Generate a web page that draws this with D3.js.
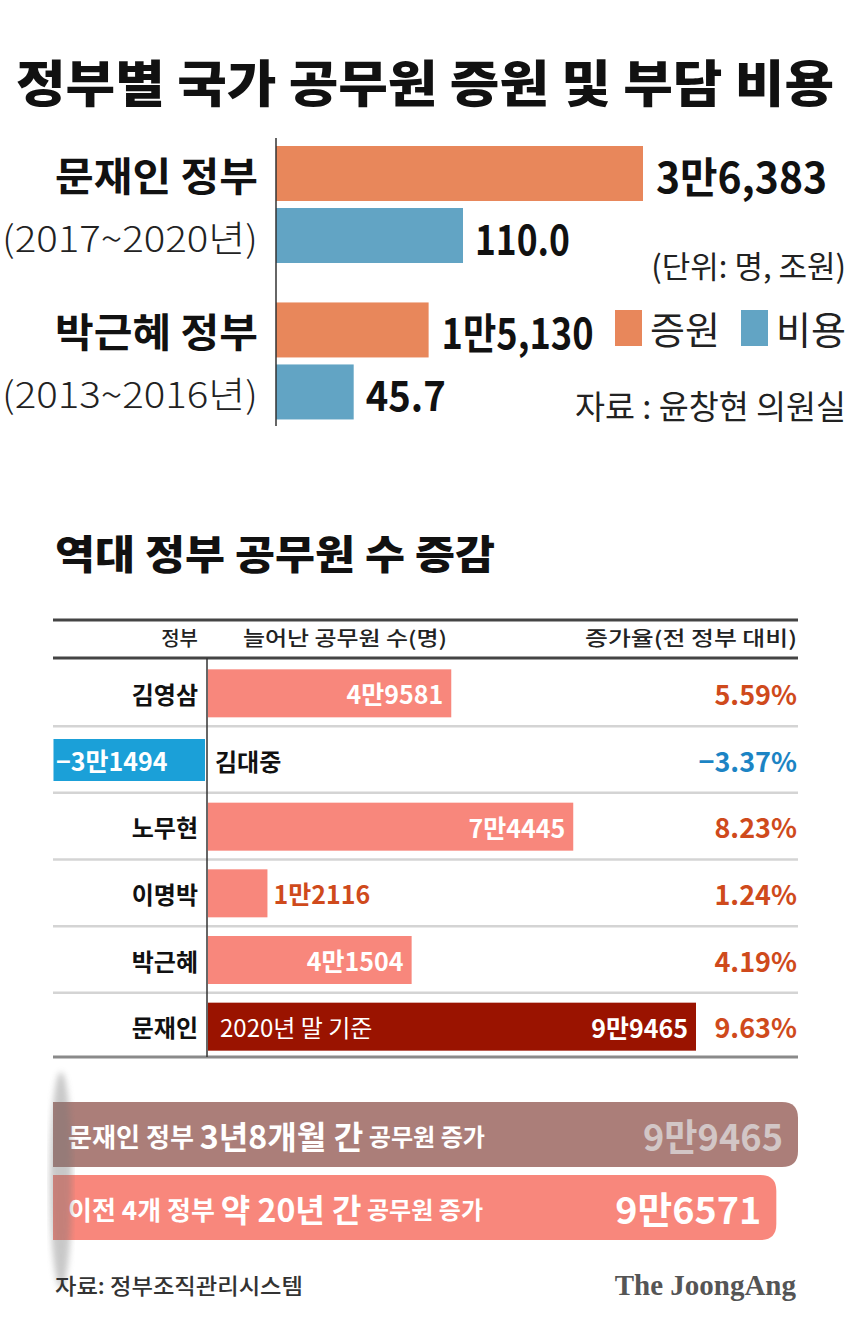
<!DOCTYPE html>
<html><head><meta charset="utf-8">
<script src="https://cdn.jsdelivr.net/npm/d3@7"></script>
<style>
html,body{margin:0;padding:0;background:#fff;}
svg{display:block;font-family:"Noto Sans CJK KR","Noto Sans",sans-serif;}
</style></head>
<body>
<svg id="c" width="850" height="1336"></svg>
<script>
// ---- data: top chart ----
const topGovs = ["문재인 정부", "박근혜 정부"];
const topPeriods = ["(2017~2020년)", "(2013~2016년)"];
const topHires = [36383, 15130];
const topHireLabels = ["3만6,383", "1만5,130"];
const topCosts = [110.0, 45.7];
const topCostLabels = ["110.0", "45.7"];
const legendItems = ["증원", "비용"];

// ---- data: bottom table ----
const govNames = ["김영삼", "김대중", "노무현", "이명박", "박근혜", "문재인"];
const increases = [49581, -31494, 74445, 12116, 41504, 99465];
const increaseLabels = ["4만9581", "−3만1494", "7만4445", "1만2116", "4만1504", "9만9465"];
const rates = ["5.59%", "−3.37%", "8.23%", "1.24%", "4.19%", "9.63%"];
const headers = ["정부", "늘어난 공무원 수(명)", "증가율(전 정부 대비)"];

// ---- data: summary ----
const summaryValues = [99465, 96571];
const summaryLabels = ["9만9465", "9만6571"];

const svg = d3.select("#c");
const ORANGE = "#e8875b", BLUE = "#62a4c4";
const SALMON = "#f8877c", NEG = "#1ba0d8", MOON = "#9a1300";
const RED_TXT = "#cf4a1c", BLUE_TXT = "#1c84c4";

function txt(x, y, s, o) {
  const t = svg.append("text").attr("x", x).attr("y", y).text(s)
    .attr("dominant-baseline", "central")
    .attr("font-size", o.size).attr("font-weight", o.weight || 400)
    .attr("fill", o.fill || "#111")
    .attr("text-anchor", o.anchor || "start");
  if (o.len) t.attr("textLength", o.len).attr("lengthAdjust", "spacingAndGlyphs");
  if (o.family) t.attr("font-family", o.family);
  return t;
}

// ---- title ----
txt(425, 80, "정부별 국가 공무원 증원 및 부담 비용", {size: 50, weight: 900, anchor: "middle", len: 818});

// ---- top chart ----
const x0 = 276;
const xHire = d3.scaleLinear().domain([0, d3.max(topHires)]).range([x0, 643]);
const xCost = d3.scaleLinear().domain([0, d3.max(topCosts)]).range([x0, 463]);
const yGov = d3.scaleBand().domain(topGovs).range([138, 426]).paddingInner(0.06);
const barH = 55;

topGovs.forEach((g, i) => {
  const yb = yGov(g) + (i === 0 ? 8 : 16);
  svg.append("rect").attr("x", x0).attr("y", yb).attr("width", xHire(topHires[i]) - x0).attr("height", barH).attr("fill", ORANGE);
  svg.append("rect").attr("x", x0).attr("y", yb + 62).attr("width", xCost(topCosts[i]) - x0).attr("height", barH).attr("fill", BLUE);
  txt(258, yb + 28, g, {size: 40, weight: 700, anchor: "end", len: 203});
  txt(258, yb + 90, topPeriods[i], {size: 36, weight: 300, anchor: "end", len: 256, fill: "#222"});
  txt(xHire(topHires[i]) + 13, yb + 28, topHireLabels[i], {size: 42, weight: 700, len: i === 0 ? 171 : 152});
  txt(xCost(topCosts[i]) + 12, yb + 90, topCostLabels[i], {size: 42, weight: 700, len: i === 0 ? 95 : 80});
});
svg.append("line").attr("x1", x0).attr("x2", x0).attr("y1", 138).attr("y2", 426).attr("stroke", "#333").attr("stroke-width", 1.5);

txt(846, 264, "(단위: 명, 조원)", {size: 31, weight: 400, anchor: "end", fill: "#222"});
// legend
const legColors = [ORANGE, BLUE];
const legX = [615, 741];
legendItems.forEach((l, i) => {
  svg.append("rect").attr("x", legX[i]).attr("y", 310).attr("width", 27).attr("height", 36).attr("fill", legColors[i]);
  txt(legX[i] + 35, 327, l, {size: 38, weight: 400, len: 70, fill: "#222"});
});
txt(846, 405, "자료 : 윤창현 의원실", {size: 33, weight: 400, anchor: "end", len: 271, fill: "#222"});

// ---- bottom title ----
txt(55, 552, "역대 정부 공무원 수 증감", {size: 40, weight: 900, len: 440});

// ---- table ----
const L = 53, R = 798, axisX = 207;
svg.append("line").attr("x1", L).attr("x2", R).attr("y1", 620).attr("y2", 620).attr("stroke", "#444").attr("stroke-width", 3);
txt(198, 637, headers[0], {size: 20, weight: 500, anchor: "end", fill: "#222"});
txt(243, 637, headers[1], {size: 20, weight: 500, fill: "#222", len: 204});
txt(797, 637, headers[2], {size: 20, weight: 500, anchor: "end", fill: "#222", len: 212});
svg.append("line").attr("x1", L).attr("x2", R).attr("y1", 658).attr("y2", 658).attr("stroke", "#444").attr("stroke-width", 3);

const yRow = d3.scaleBand().domain(govNames).range([660, 1060]).paddingInner(0.28).paddingOuter(0.14);
const xInc = d3.scaleLinear().domain([0, d3.max(increases)]).range([axisX + 1, 696]);
const step = yRow.step();

// separators
govNames.slice(1).forEach(g => {
  const ys = yRow(g) - step * 0.14 - 0.5;
  svg.append("line").attr("x1", L).attr("x2", R).attr("y1", ys).attr("y2", ys)
    .attr("stroke", "#d4d4d4").attr("stroke-width", 2.5);
});
svg.append("line").attr("x1", L).attr("x2", R).attr("y1", 1057).attr("y2", 1057).attr("stroke", "#8a8a8a").attr("stroke-width", 3);

govNames.forEach((g, i) => {
  const v = increases[i];
  const y = yRow(g), h = yRow.bandwidth(), cy = y + h / 2;
  const xa = Math.min(xInc(0), xInc(v)), w = Math.abs(xInc(v) - xInc(0));
  const fill = v < 0 ? NEG : (g === "문재인" ? MOON : SALMON);
  svg.append("rect").attr("x", xa).attr("y", v < 0 ? y + 3 : y).attr("width", v < 0 ? w - 3 : w)
    .attr("height", v < 0 ? h - 6 : h).attr("fill", fill);
  if (v < 0) {
    txt(215, cy, g, {size: 24, weight: 700});
    txt(L + 3, cy, increaseLabels[i], {size: 25, weight: 700, fill: "#fff"});
  } else {
    txt(198, cy, g, {size: 24, weight: 700, anchor: "end"});
    if (w < 100) {
      txt(xInc(v) + 6, cy, increaseLabels[i], {size: 25, weight: 700, fill: RED_TXT});
    } else {
      txt(xInc(v) - 8, cy, increaseLabels[i], {size: 25, weight: 700, fill: "#fff", anchor: "end"});
    }
  }
  if (g === "문재인") txt(220, cy, "2020년 말 기준", {size: 24, weight: 400, fill: "#fff"});
  txt(797, cy, rates[i], {size: 27, weight: 700, anchor: "end", fill: v < 0 ? BLUE_TXT : RED_TXT});
});
svg.append("line").attr("x1", axisX).attr("x2", axisX).attr("y1", 658).attr("y2", 1057).attr("stroke", "#333").attr("stroke-width", 1.5);

// ---- summary bars ----
const xSum = d3.scaleLinear().domain([0, d3.max(summaryValues)]).range([L, R]);
const sumColors = ["#ab7e79", SALMON];
const sumY = [1102, 1175];
const sumH = 65, rad = 16;
summaryValues.forEach((v, i) => {
  const x1 = xSum(v);
  const y = sumY[i];
  const p = `M${L},${y} H${x1 - rad} Q${x1},${y} ${x1},${y + rad} V${y + sumH - rad} Q${x1},${y + sumH} ${x1 - rad},${y + sumH} H${L} Z`;
  svg.append("path").attr("d", p).attr("fill", sumColors[i]);
  txt(x1 - 15, y + sumH / 2, summaryLabels[i], {size: 37, weight: 700, anchor: "end",
    fill: i === 0 ? "#d2c6c6" : "#fff", len: i === 0 ? 140 : 146});
});
function mixed(x, y, parts, len) {
  const t = svg.append("text").attr("x", x).attr("y", y).attr("dominant-baseline", "central").attr("fill", "#fff")
    .attr("textLength", len).attr("lengthAdjust", "spacingAndGlyphs");
  parts.forEach(p => t.append("tspan").attr("font-size", p[1]).attr("font-weight", p[2]).text(p[0]));
}
mixed(68, 1135, [["문재인 정부 ", 26, 700], ["3년8개월 간", 32, 700], [" 공무원 증가", 24, 700]], 417);
mixed(68, 1208, [["이전 4개 정부 ", 26, 700], ["약 20년 간", 32, 700], [" 공무원 증가", 24, 700]], 415);

// soft shadow artifact at left edge
const defs = svg.append("defs");
defs.append("filter").attr("id", "blur").append("feGaussianBlur").attr("stdDeviation", 3);
svg.append("ellipse").attr("cx", 61).attr("cy", 1180).attr("rx", 11).attr("ry", 108)
  .attr("fill", "#777").attr("opacity", 0.4).attr("filter", "url(#blur)");

// ---- footer ----
txt(55, 1284, "자료: 정부조직관리시스템", {size: 22, weight: 500, fill: "#333", len: 248});
txt(796, 1285, "The JoongAng", {size: 29, weight: 700, anchor: "end", fill: "#555", family: "'Liberation Serif','DejaVu Serif',serif"});
</script>
</body></html>
